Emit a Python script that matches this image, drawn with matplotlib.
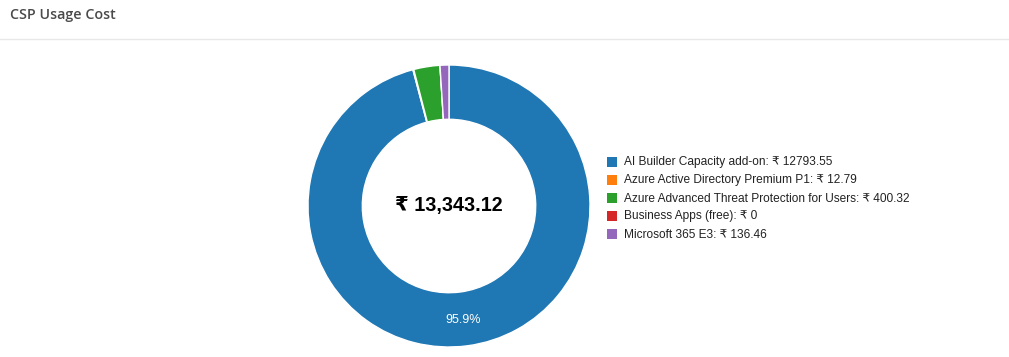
import matplotlib
matplotlib.use("Agg")
import matplotlib.pyplot as plt
from matplotlib.patches import Rectangle
from matplotlib.lines import Line2D

labels = ["AI Builder Capacity add-on", "Azure Active Directory Premium P1",
          "Azure Advanced Threat Protection for Users", "Business Apps (free)",
          "Microsoft 365 E3"]
values = [12793.55, 12.79, 400.32, 0.0, 136.46]
value_text = ["12793.55", "12.79", "400.32", "0", "136.46"]
colors = ["#1f77b4", "#ff7f0e", "#2ca02c", "#d62728", "#9467bd"]
title = "CSP Usage Cost"
total_label = "₹ 13,343.12"

W, H = 1009, 357
fig = plt.figure(figsize=(W / 100, H / 100), dpi=100)
fig.patch.set_facecolor("white")

# title and separator
fig.text(10 / W, 1 - 15 / H, title, fontsize=10.3, color="#4a4a4a",
         family=["Open Sans", "DejaVu Sans"], va="center", ha="left",
         fontweight="semibold")
fig.add_artist(Line2D([0, 1], [1 - 38.5 / H] * 2, color="#e8e8e8", lw=1,
                      transform=fig.transFigure))

cx, cy, r = 449, 206, 141
ax = fig.add_axes([(cx - r) / W, (H - cy - r) / H, 2 * r / W, 2 * r / H])

def fmt(p):
    return f"{p:.1f}%" if p > 5 else ""

wedges, texts, autotexts = ax.pie(
    values, colors=colors, startangle=90, counterclock=False,
    radius=1.0, autopct=fmt, pctdistance=0.8,
    wedgeprops=dict(width=0.385, edgecolor="white", linewidth=1),
    textprops=dict(color="white", fontsize=9,
                   family=["Liberation Sans", "DejaVu Sans"]))
for t in autotexts:
    t.set_y(t.get_position()[1] - 0.012)
ax.set_xlim(-1, 1)
ax.set_ylim(-1, 1)
ax.set_aspect("equal")
ax.axis("off")
ax.text(0, 0, total_label, ha="center", va="center", fontsize=14.2,
        fontweight="bold", color="black",
        family=["Liberation Sans", "DejaVu Sans"])

# legend
y0 = 162
for i, (lab, vs, col) in enumerate(zip(labels, value_text, colors)):
    y = y0 + i * 18
    fig.add_artist(Rectangle((607 / W, 1 - (y + 5) / H), 10 / W, 10 / H,
                             facecolor=col, edgecolor="none",
                             transform=fig.transFigure))
    fig.text(624 / W, 1 - (y + 0.5) / H, f"{lab}: ₹ {vs}", fontsize=8.6,
             color="#222222", family=["Liberation Sans", "DejaVu Sans"],
             va="center", ha="left")

fig.savefig("out.png", dpi=100, facecolor="white")
